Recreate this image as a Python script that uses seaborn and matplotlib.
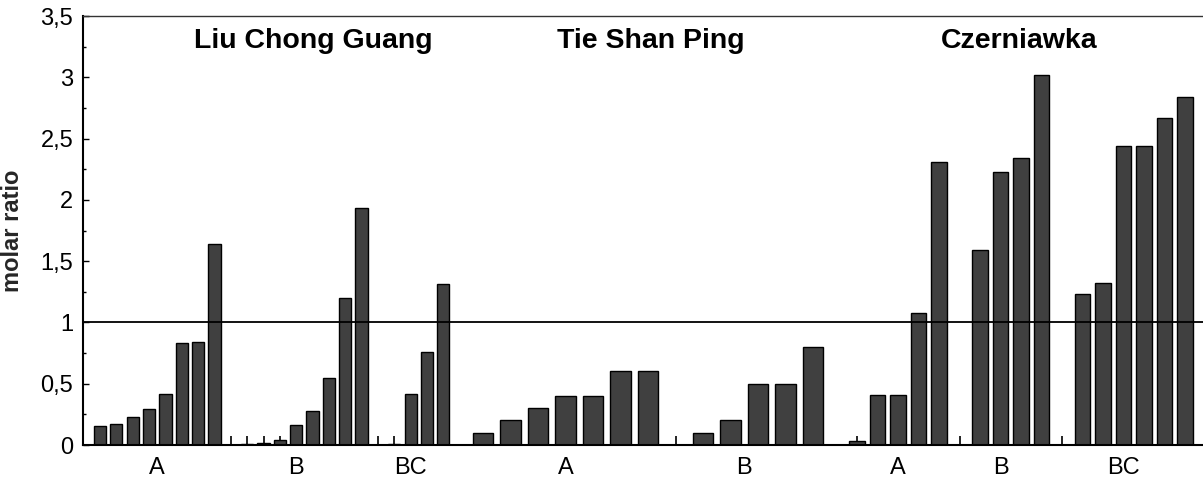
import numpy as np
import pandas as pd
import seaborn as sns
import matplotlib.pyplot as plt
from matplotlib.ticker import MultipleLocator, FixedLocator

sns.set_theme(style="ticks")
plt.rcParams["font.family"] = ["Liberation Sans", "DejaVu Sans"]

# ---- data: molar ratio per sample, grouped by site and horizon ----
sites = ["Liu Chong Guang", "Tie Shan Ping", "Czerniawka"]

lcg_groups = ["A", "B", "BC"]
lcg_A = [0.155, 0.17, 0.23, 0.29, 0.42, 0.83, 0.84, 1.64]
lcg_B = [0.0, 0.01, 0.02, 0.04, 0.16, 0.28, 0.55, 1.20, 1.93]
lcg_BC = [0.0, 0.01, 0.42, 0.76, 1.31]

tsp_groups = ["A", "B"]
tsp_A = [0.1, 0.2, 0.3, 0.4, 0.4, 0.6, 0.6]
tsp_B = [0.0, 0.1, 0.2, 0.5, 0.5, 0.8]

cz_groups = ["A", "B", "BC"]
cz_A = [0.03, 0.41, 0.41, 1.08, 2.31]
cz_B = [0.0, 1.59, 2.23, 2.34, 3.02]
cz_BC = [0.0, 1.23, 1.32, 2.44, 2.44, 2.67, 2.84]

site_data = [
    (lcg_groups, [lcg_A, lcg_B, lcg_BC]),
    (tsp_groups, [tsp_A, tsp_B]),
    (cz_groups, [cz_A, cz_B, cz_BC]),
]

# ---- layout (axis units along x) ----
site_start = [100.0, 483.0, 857.0]
slot_pitch = [16.35, 27.5, 20.5]
title_x = [313.0, 651.0, 1019.0]
x_limits = (83.0, 1203.0)
title_y = 3.30
bar_color = "#404040"
trace_threshold = 0.05

fig = plt.figure(figsize=(12.03, 4.79), dpi=100)
ax = fig.add_axes([83 / 1203, 1 - 445 / 479, 1 - 83 / 1203, (445 - 16) / 479])

group_centers, group_names, trace_pos = [], [], []
for s, (site, (gnames, groups)) in enumerate(zip(sites, site_data)):
    rows = []
    slot = 0
    for gname, vals in zip(gnames, groups):
        xs = []
        for v in vals:
            x = site_start[s] + slot * slot_pitch[s]
            rows.append({"x": x, "ratio": v, "group": gname})
            xs.append(x)
            if v < trace_threshold:
                trace_pos.append(x)
            slot += 1
        group_centers.append(np.mean(xs))
        group_names.append(gname)
    df = pd.DataFrame(rows)
    sns.barplot(data=df, x="x", y="ratio", native_scale=True, width=0.75,
                color=bar_color, saturation=1, edgecolor="black", linewidth=1.0,
                errorbar=None, ax=ax, zorder=2)
    ax.text(title_x[s], title_y, site, ha="center", va="center",
            fontsize=20.5, fontweight="bold", color="black")

# reference line at ratio = 1
ax.axhline(1.0, color="black", lw=1.3, zorder=5)

ax.set_xlim(*x_limits)
ax.set_ylim(0, 3.5)

# y axis
ax.yaxis.set_major_locator(MultipleLocator(0.5))
ax.yaxis.set_minor_locator(MultipleLocator(0.25))
yt = np.arange(0, 3.51, 0.5)
ax.set_yticks(yt)
ax.set_yticklabels([f"{v:g}".replace(".", ",") for v in yt])
ax.tick_params(axis="y", which="major", direction="in", length=4.5, width=1,
               labelsize=17, pad=7, colors="black")
ax.tick_params(axis="y", which="minor", direction="in", length=2.5, width=1,
               colors="black")
ax.set_ylabel("molar ratio", fontsize=17, fontweight="bold", labelpad=12)

# x axis: horizon labels at group centres, small marks at trace samples
ax.xaxis.set_major_locator(FixedLocator(group_centers))
ax.set_xticklabels(group_names)
ax.xaxis.set_minor_locator(FixedLocator(trace_pos))
ax.tick_params(axis="x", which="major", length=0, labelsize=17, pad=9,
               colors="black")
ax.tick_params(axis="x", which="minor", direction="in", length=6.5, width=1.2,
               colors="black")
ax.set_xlabel("")

for side in ["left", "bottom"]:
    ax.spines[side].set_color("black")
    ax.spines[side].set_linewidth(1.5)
ax.spines["top"].set_color("#333333")
ax.spines["top"].set_linewidth(1.0)
ax.spines["right"].set_visible(False)
ax.grid(False)

fig.savefig("out.png", dpi=100)
